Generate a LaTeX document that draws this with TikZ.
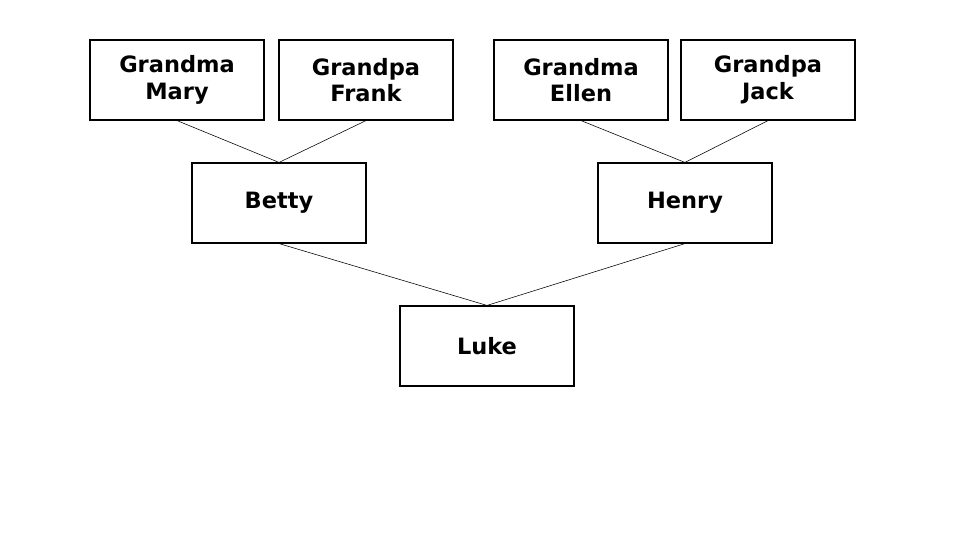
\documentclass[tikz,border=0pt]{standalone}
\usepackage{fontspec}
\setmainfont{DejaVu Sans}
\usetikzlibrary{positioning}

\begin{document}
\begin{tikzpicture}[x=0.025cm, y=-0.025cm,
			person/.style={draw, thick, minimum width=4.35cm, minimum height=2cm, align=center,
				font=\bfseries\fontsize{16}{19}\selectfont, inner sep=0pt}]
			\useasboundingbox (0,0) rectangle (960,540);
			% grandparents
			\node[person] (mary) at (177,80) {Grandma\\Mary};
			\node[person] (frank) at (366,80) {Grandpa\\Frank};
			\node[person] (ellen) at (581,80) {Grandma\\Ellen};
			\node[person] (jack) at (768,80) {Grandpa\\Jack};
			% parents
			\node[person] (betty) at (279,203) {Betty};
			\node[person] (henry) at (685,203) {Henry};
			% child
			\node[person] (luke) at (487,346) {Luke};
			\draw (mary.south) -- (betty.north);
			\draw (frank.south) -- (betty.north);
			\draw (ellen.south) -- (henry.north);
			\draw (jack.south) -- (henry.north);
			\draw (betty.south) -- (luke.north);
			\draw (henry.south) -- (luke.north);
	\end{tikzpicture}
\end{document}
